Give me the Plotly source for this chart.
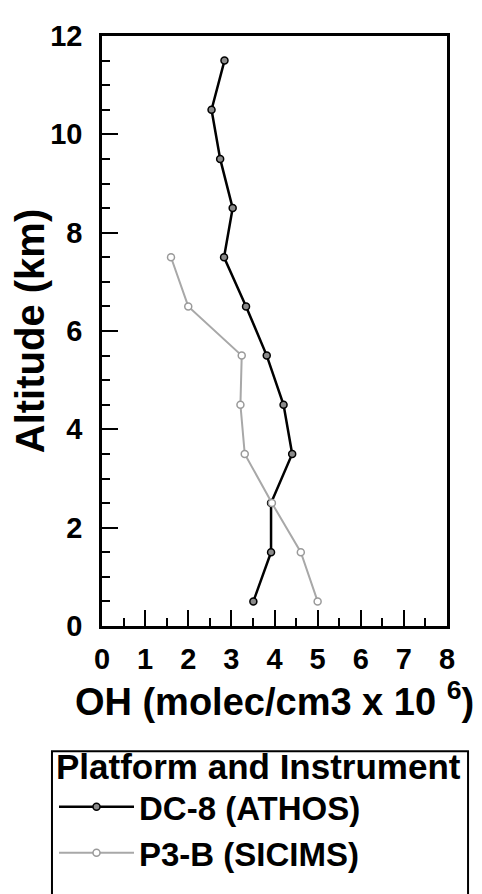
import plotly.graph_objects as go

# Data
altitude_km = [0.5, 1.5, 2.5, 3.5, 4.5, 5.5, 6.5, 7.5, 8.5, 9.5, 10.5, 11.5]
dc8_oh = [3.51, 3.92, 3.92, 4.41, 4.21, 3.82, 3.34, 2.83, 3.03, 2.74, 2.54, 2.84]
p3b_altitude_km = [0.5, 1.5, 2.5, 3.5, 4.5, 5.5, 6.5, 7.5]
p3b_oh = [5.0, 4.61, 3.94, 3.31, 3.21, 3.24, 2.0, 1.60]

x_tick_vals = [0, 1, 2, 3, 4, 5, 6, 7, 8]
y_tick_vals = [0, 2, 4, 6, 8, 10, 12]

FONT = "Liberation Sans, Arial, sans-serif"

# The page body adds an 8 px margin, so the figure is 8 px smaller each way
W, H = 474, 886
ML, MT, PW, PH = 94, 20, 345, 603

fig = go.Figure()
fig.add_trace(go.Scatter(
    x=dc8_oh, y=altitude_km, mode="lines+markers", name="DC-8 (ATHOS)",
    line=dict(color="black", width=2.5),
    marker=dict(symbol="circle", size=7, color="#8a8a8a", line=dict(color="black", width=1.5)),
))
fig.add_trace(go.Scatter(
    x=p3b_oh, y=p3b_altitude_km, mode="lines+markers", name="P3-B (SICIMS)",
    line=dict(color="#a8a8a8", width=2),
    marker=dict(symbol="circle", size=7, color="white", line=dict(color="#9a9a9a", width=1.5)),
))

axis_common = dict(
    showgrid=False, zeroline=False, showline=True, linecolor="black", linewidth=2.5,
    mirror=True, ticks="inside", ticklen=16, tickwidth=2, tickcolor="black",
    tickfont=dict(family=FONT, size=29, color="black", weight="bold"),
)

fig.update_xaxes(
    range=[0, 8], tickvals=x_tick_vals, ticklabelstandoff=5,
    minor=dict(dtick=0.5, ticks="inside", ticklen=8, tickwidth=1.5, tickcolor="black"),
    title=dict(text="OH (molec/cm3 x 10 <sup>6</sup>)", font=dict(family=FONT, size=38, color="black", weight="bold"), standoff=3),
    **axis_common,
)
fig.update_yaxes(
    range=[0, 12], tickvals=y_tick_vals, ticklabelstandoff=11,
    minor=dict(dtick=0.5, ticks="inside", ticklen=8, tickwidth=1.5, tickcolor="black"),
    title=dict(text="Altitude (km)", font=dict(family=FONT, size=40, color="black", weight="bold"), standoff=2),
    **axis_common,
)

# Legend frame (runs off the bottom of the page, as in the reference)
fig.add_shape(type="rect", xref="paper", yref="paper",
              x0=-0.145, x1=1.061, y0=-0.7, y1=-0.2123,
              line=dict(color="black", width=2), fillcolor="rgba(0,0,0,0)", layer="above")

# Legend anchored by its bottom edge so that it never pushes the margins
LEGEND_BOTTOM_PX = 884
fig.update_layout(
    width=W, height=H, autosize=False,
    margin=dict(l=ML, r=W - ML - PW, t=MT, b=H - MT - PH),
    paper_bgcolor="white", plot_bgcolor="white",
    showlegend=True,
    legend=dict(
        x=(46 - ML) / PW, xanchor="left",
        y=-(LEGEND_BOTTOM_PX - MT - PH) / PH, yanchor="bottom",
        title=dict(text="Platform and Instrument", side="top", font=dict(family=FONT, size=35, color="black", weight="bold")),
        font=dict(family=FONT, size=33, color="black", weight="bold"),
        itemwidth=75, tracegroupgap=0, bgcolor="rgba(0,0,0,0)", borderwidth=0,
    ),
)

fig.write_html("out.html")
